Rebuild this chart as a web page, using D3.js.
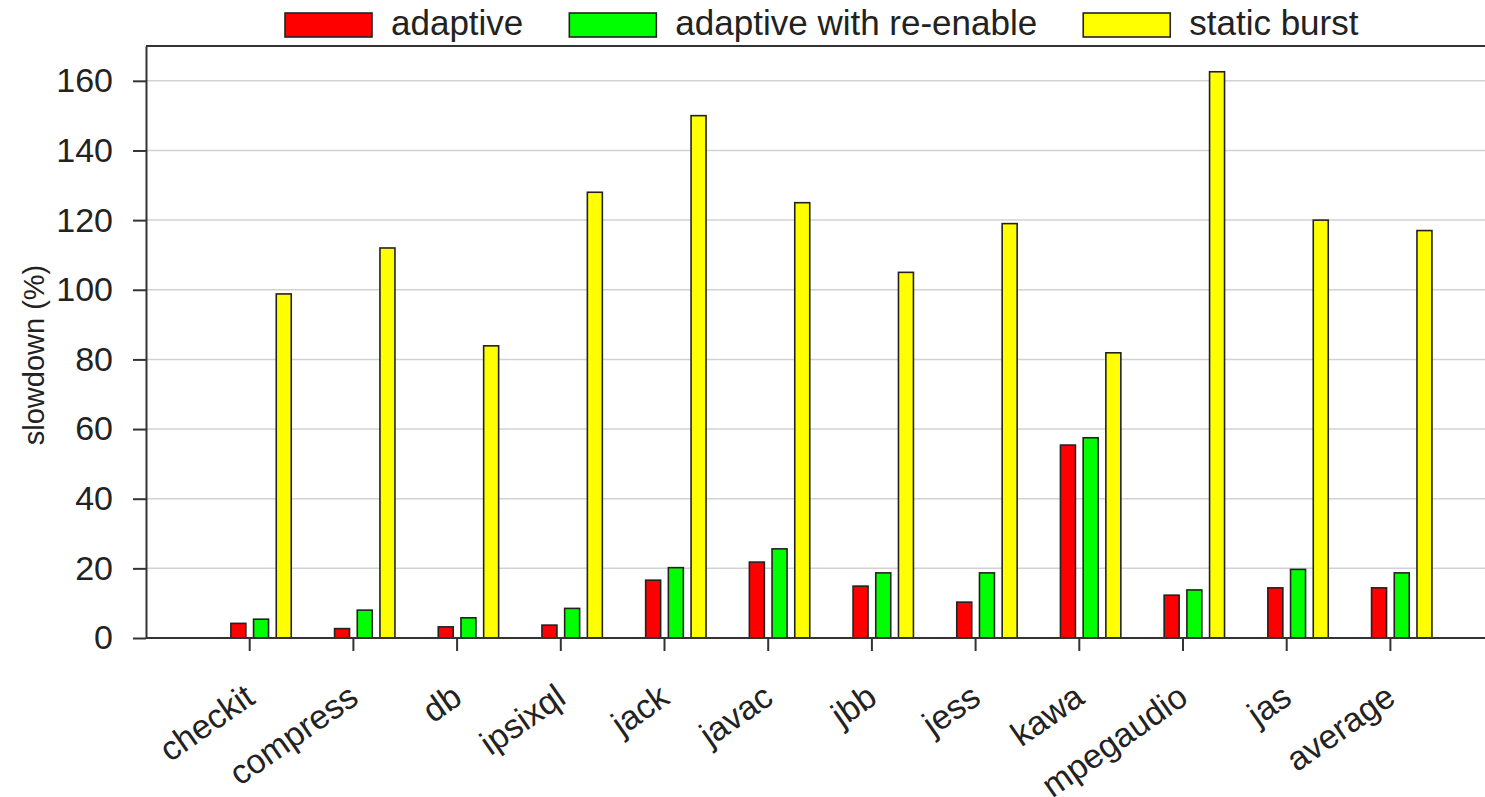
<!DOCTYPE html>
<html>
<head>
<meta charset="utf-8">
<script src="https://cdn.jsdelivr.net/npm/d3@7"></script>
<style>
  html, body { margin: 0; padding: 0; background: #fff; }
  svg { display: block; font-family: "Liberation Sans", Arial, sans-serif; }
</style>
</head>
<body>
<svg id="chart" width="1485" height="797"></svg>
<script>
// Benchmarks on the x axis
const categories = ["checkit", "compress", "db", "ipsixql", "jack", "javac",
                    "jbb", "jess", "kawa", "mpegaudio", "jas", "average"];

// Slowdown (%) per benchmark for each configuration
const adaptive          = [4.2, 2.7, 3.2, 3.7, 16.6, 21.8, 14.9, 10.3, 55.4, 12.3, 14.4, 14.4];
const adaptiveReenable  = [5.4, 8.0, 5.8, 8.5, 20.2, 25.6, 18.7, 18.7, 57.5, 13.8, 19.7, 18.7];
const staticBurst       = [98.8, 112, 83.9, 128, 150, 125, 105, 119, 81.9, 162.6, 120, 117];

const seriesNames  = ["adaptive", "adaptive with re-enable", "static burst"];
const seriesValues = [adaptive, adaptiveReenable, staticBurst];
const seriesColors = ["#ff0000", "#00ff00", "#ffff00"];

const yTicks = [0, 20, 40, 60, 80, 100, 120, 140, 160];

const svg = d3.select("#chart");

// Plot frame
const plotLeft = 146, plotBottom = 638, plotTop = 46, plotRight = 1485;
const band = 103.7;

// Category bands: first tick sits one band in from the y axis
const x0 = d3.scaleBand()
  .domain(categories)
  .range([plotLeft + band / 2, plotLeft + band / 2 + band * categories.length])
  .padding(0);

// Four slots per group; slot 0 is left empty so the tick falls between slots 1 and 2
const slots = ["", ...seriesNames];
const groupW = 90.8;
const x1 = d3.scaleBand()
  .domain(slots)
  .range([band / 2 - groupW / 2, band / 2 + groupW / 2])
  .paddingInner(0.34)
  .paddingOuter(0.17);

const y = d3.scaleLinear().domain([0, 170]).range([plotBottom, plotTop]);

// Gridlines
svg.append("g")
  .selectAll("line")
  .data(yTicks.filter(d => d > 0))
  .join("line")
  .attr("x1", plotLeft).attr("x2", plotRight)
  .attr("y1", d => y(d)).attr("y2", d => y(d))
  .attr("stroke", "#d2d2d2").attr("stroke-width", 1.5);

// Top frame line
svg.append("line")
  .attr("x1", plotLeft).attr("x2", plotRight)
  .attr("y1", y(170)).attr("y2", y(170))
  .attr("stroke", "#333").attr("stroke-width", 2.2);

// Bars
const groups = svg.append("g")
  .selectAll("g")
  .data(categories)
  .join("g")
  .attr("transform", d => `translate(${x0(d)},0)`);

groups.selectAll("rect")
  .data((d, i) => seriesNames.map((s, k) => ({ s, v: seriesValues[k][i], c: seriesColors[k] })))
  .join("rect")
  .attr("x", d => x1(d.s))
  .attr("width", x1.bandwidth())
  .attr("y", d => y(d.v))
  .attr("height", d => y(0) - y(d.v))
  .attr("fill", d => d.c)
  .attr("stroke", "#222")
  .attr("stroke-width", 1.6);

// Y axis
const yAxis = svg.append("g")
  .attr("transform", `translate(${plotLeft},0)`)
  .call(d3.axisLeft(y).tickValues(yTicks).tickSize(13).tickPadding(20).tickSizeOuter(0));
yAxis.select(".domain").attr("stroke", "#333").attr("stroke-width", 2);
yAxis.selectAll(".tick line").attr("stroke", "#333").attr("stroke-width", 2);
yAxis.selectAll(".tick text")
  .attr("font-size", 34)
  .attr("fill", "#222")
  .attr("font-family", "Liberation Sans, Arial, sans-serif");

// X axis
const xAxis = svg.append("g")
  .attr("transform", `translate(0,${plotBottom})`)
  .call(d3.axisBottom(x0).tickSize(13).tickSizeOuter(0).tickFormat(""));
xAxis.select(".domain").attr("stroke", "#333").attr("stroke-width", 2)
  .attr("d", `M${plotLeft},0H${plotRight}`);
xAxis.selectAll(".tick line").attr("stroke", "#333").attr("stroke-width", 2);

// Rotated category labels
svg.append("g")
  .selectAll("text")
  .data(categories)
  .join("text")
  .attr("transform", d => `translate(${x0(d) + x0.bandwidth() / 2 + 7},${plotBottom + 64}) rotate(-35)`)
  .attr("text-anchor", "end")
  .attr("font-size", 34)
  .attr("fill", "#222")
  .text(d => d);

// Y axis title
svg.append("text")
  .attr("transform", `translate(44,${(plotBottom + plotTop) / 2 + 13}) rotate(-90)`)
  .attr("text-anchor", "middle")
  .attr("font-size", 29)
  .attr("fill", "#222")
  .text("slowdown (%)");

// Legend
const legend = svg.append("g").attr("transform", "translate(285,13)");
let lx = 0;
seriesNames.forEach((name, k) => {
  const item = legend.append("g").attr("transform", `translate(${lx},0)`);
  item.append("rect")
    .attr("width", 87).attr("height", 24)
    .attr("fill", seriesColors[k])
    .attr("stroke", "#222").attr("stroke-width", 1.6);
  const t = item.append("text")
    .attr("x", 106).attr("y", 22)
    .attr("font-size", 35)
    .attr("fill", "#222")
    .text(name);
  lx += 106 + t.node().getComputedTextLength() + 46;
});
</script>
</body>
</html>
